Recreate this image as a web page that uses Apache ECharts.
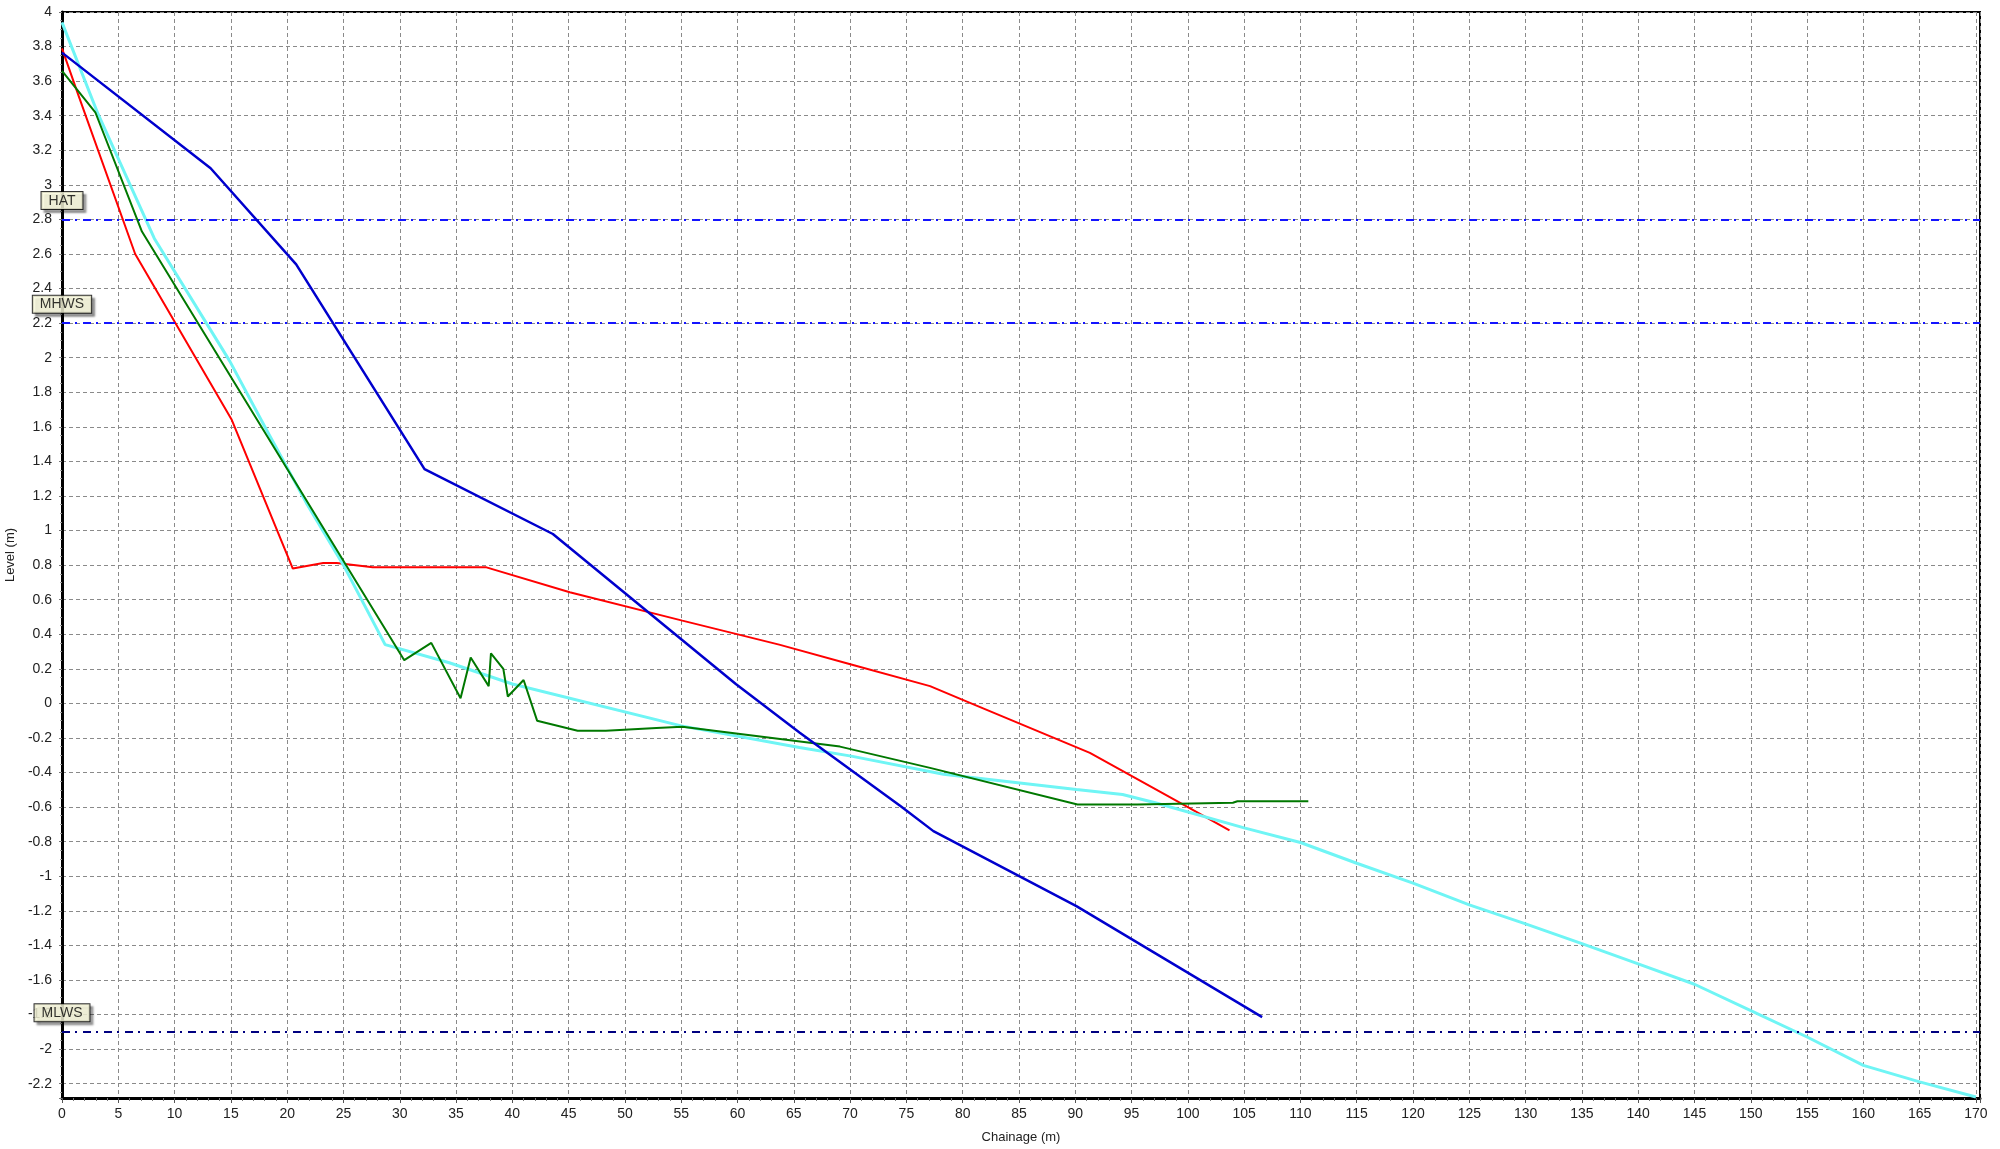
<!DOCTYPE html>
<html>
<head>
<meta charset="utf-8">
<script src="https://cdn.jsdelivr.net/npm/echarts@6/dist/echarts.min.js"></script>
<style>
html,body{margin:0;padding:0;background:#fff;}
#chart{width:2000px;height:1149px;}
</style>
</head>
<body>
<div id="chart"></div>
<script>
// ---- data (chainage m, level m) ----
const profileRed = [[0,3.79],[1.5,3.51],[6.5,2.6],[15.05,1.644],[20.5,0.78],[23.2,0.812],[24.4,0.812],[27.6,0.787],[37.7,0.787],[45.1,0.643],[55.1,0.479],[63.7,0.34],[70.1,0.225],[77.1,0.1],[79.9,0.023],[91.3,-0.286],[99.6,-0.585],[103.7,-0.735]];
const profileCyan = [[0,3.94],[3.2,3.41],[8.2,2.69],[14.9,1.98],[18.1,1.59],[21.7,1.16],[25,0.8],[28.7,0.34],[34.4,0.235],[40,0.112],[55,-0.13],[65.5,-0.255],[70.1,-0.305],[78.3,-0.41],[90.1,-0.498],[94.2,-0.527],[97.1,-0.575],[105,-0.72],[110,-0.805],[115,-0.925],[120,-1.04],[125,-1.166],[130,-1.276],[135,-1.39],[140,-1.507],[145,-1.625],[150,-1.778],[155,-1.93],[160,-2.094],[165,-2.19],[170,-2.277]];
const profileGreen = [[0,3.66],[2.96,3.42],[7.1,2.73],[30.4,0.25],[32.8,0.35],[35.4,0.03],[36.3,0.265],[37.9,0.1],[38.1,0.29],[39.2,0.2],[39.6,0.04],[41.0,0.135],[42.2,-0.1],[45.8,-0.158],[48.3,-0.158],[52.8,-0.143],[55.1,-0.135],[69.1,-0.25],[77.1,-0.373],[90.2,-0.585],[95.5,-0.585],[104,-0.575],[104.4,-0.566],[110.7,-0.566]];
const profileBlue = [[0,3.765],[13.2,3.096],[20.8,2.54],[32.2,1.355],[43.6,0.98],[59.85,0.112],[65.5,-0.168],[74.5,-0.595],[77.4,-0.739],[90.1,-1.173],[106.6,-1.815]];
const refNames = ['HAT','MHWS','MLWS'];
const refLevels = [2.8, 2.2, -1.9];
const refColors = ['#1414ff','#1414ff','#000080'];
const xRange = [0, 170.36];
const yRange = [-2.283, 4];

const chart = echarts.init(document.getElementById('chart'), null, {renderer:'canvas'});
const FONT = '"Liberation Sans", Arial, sans-serif';
const dash = [8,5,2,6];

function lineSeries(name, data, color, width, z){
  return {name, type:'line', data, symbol:'none', z,
    lineStyle:{color, width}, itemStyle:{color}, animation:false};
}

chart.setOption({
  backgroundColor:'#fff',
  animation:false,
  grid:{left:62, right:20, top:12, bottom:51, containLabel:false, outerBoundsMode:'none',
    show:true, borderColor:'#000', borderWidth:2, backgroundColor:'#fff'},
  xAxis:{
    type:'value', min:xRange[0], max:xRange[1], interval:5,
    name:'Chainage (m)', nameLocation:'middle', nameGap:33,
    nameTextStyle:{fontFamily:FONT, fontSize:13, color:'#222'},
    axisLine:{show:true, onZero:false, lineStyle:{color:'#000', width:3}},
    axisTick:{show:true, length:5, lineStyle:{color:'#555', width:1}},
    minorTick:{show:true, splitNumber:5, length:3, lineStyle:{color:'#777', width:1}},
    axisLabel:{fontFamily:FONT, fontSize:14, color:'#222', margin:9, showMaxLabel:false},
    splitLine:{show:true, lineStyle:{color:'#8a8a8a', width:1, type:[4,3]}}
  },
  yAxis:{
    type:'value', min:yRange[0], max:yRange[1], splitNumber:31, minInterval:0.2, maxInterval:0.2,
    name:'Level (m)', nameLocation:'middle', nameGap:40,
    nameTextStyle:{fontFamily:FONT, fontSize:13, color:'#222'},
    axisLine:{show:true, onZero:false, lineStyle:{color:'#000', width:3}},
    axisTick:{show:true, length:3, lineStyle:{color:'#777', width:1}},
    minorTick:{show:true, splitNumber:4, length:2, lineStyle:{color:'#999', width:1}},
    axisLabel:{fontFamily:FONT, fontSize:14, color:'#222', margin:10, showMinLabel:false},
    splitLine:{show:true, lineStyle:{color:'#8a8a8a', width:1, type:[4,3]}}
  },
  series:[
    lineSeries('Profile A', profileRed, '#ff0000', 2, 3),
    lineSeries('Profile B', profileCyan, '#6ff5f5', 3, 4),
    lineSeries('Profile C', profileGreen, '#007800', 2, 5),
    lineSeries('Profile D', profileBlue, '#0000cd', 2.5, 6),
    {
      name:'Tide levels', type:'scatter', z:10, symbolSize:1, silent:true,
      itemStyle:{color:'rgba(0,0,0,0)'},
      data: refLevels.map((v,i)=>({value:[0,v], name:refNames[i]})),
      label:{show:true, position:'top', distance:10, formatter:p=>p.name,
        fontFamily:FONT, fontSize:14, color:'#000',
        backgroundColor:'#ffffe1', borderColor:'#000', borderWidth:1, padding:[2,7,1,7],
        shadowColor:'rgba(0,0,0,0.45)', shadowBlur:2, shadowOffsetX:3, shadowOffsetY:3},
      markLine:{silent:true, symbol:['none','none'], label:{show:false},
        data: refLevels.map((v,i)=>({yAxis:v, lineStyle:{color:refColors[i], width:2, type:dash}}))}
    }
  ]
});
</script>
</body>
</html>
